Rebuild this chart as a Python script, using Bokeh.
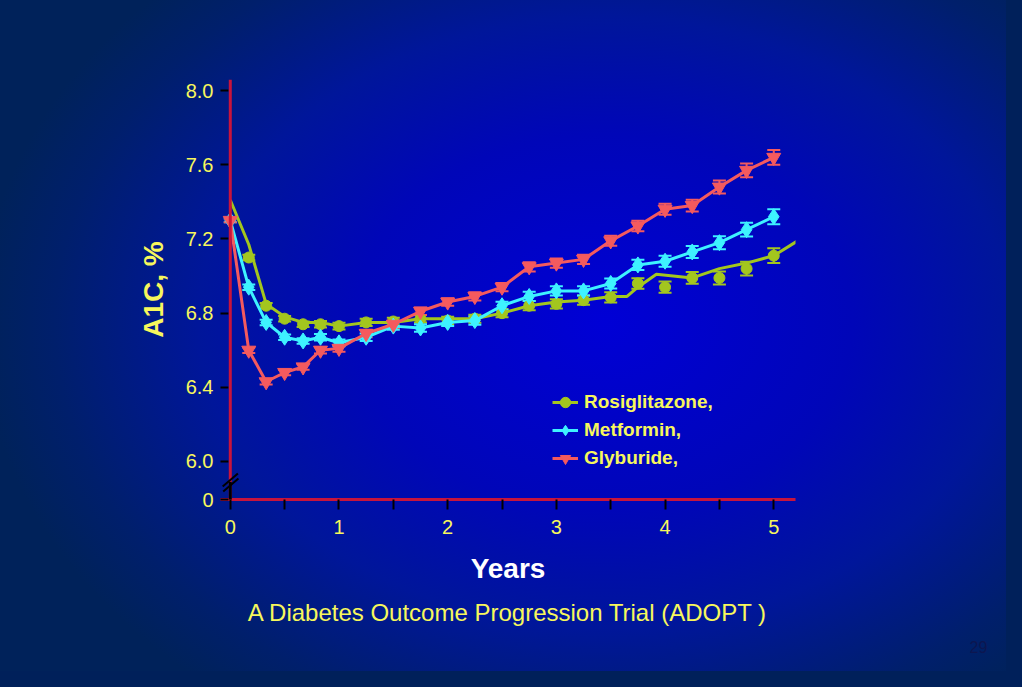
from bokeh.plotting import figure
from bokeh.models import (ColumnDataSource, FixedTicker, Whisker, TeeHead, Legend,
                          LegendItem, Title, CustomJSTickFormatter, Range1d, Span)
from bokeh.embed import file_html
from bokeh.resources import INLINE

# ---- data ----
years = [0, 0.17, 0.33, 0.5, 0.67, 0.83, 1.0, 1.25, 1.5, 1.75, 2.0, 2.25, 2.5,
         2.75, 3.0, 3.25, 3.5, 3.75, 4.0, 4.25, 4.5, 4.75, 5.0]
glyburide = [7.30, 6.60, 6.43, 6.48, 6.51, 6.60, 6.61, 6.69, 6.74, 6.81, 6.86, 6.89,
             6.94, 7.05, 7.07, 7.09, 7.19, 7.27, 7.36, 7.38, 7.48, 7.57, 7.64]
metformin = [7.30, 6.94, 6.75, 6.67, 6.65, 6.67, 6.64, 6.67, 6.73, 6.72, 6.75, 6.76,
             6.84, 6.89, 6.92, 6.92, 6.96, 7.06, 7.08, 7.13, 7.18, 7.25, 7.32]
rosi_years = years[1:]
rosiglitazone = [7.10, 6.84, 6.77, 6.74, 6.74, 6.73, 6.75, 6.755, 6.77, 6.76, 6.77,
                 6.80, 6.84, 6.85, 6.87, 6.885, 6.96, 6.94, 6.99, 6.99, 7.04, 7.11]
rosi_line_years = [0, 0.17, 0.33, 0.5, 0.67, 0.83, 1.0, 1.25, 1.5, 1.75, 2.0, 2.25,
                   2.5, 2.75, 3.0, 3.25, 3.5, 3.65, 3.75, 3.92, 4.25, 4.5, 4.75, 5.0, 5.22]
rosi_line = [7.41, 7.17, 6.85, 6.78, 6.75, 6.75, 6.73, 6.75, 6.75, 6.77, 6.77, 6.77,
             6.80, 6.84, 6.86, 6.87, 6.89, 6.89, 6.94, 7.01, 6.99, 7.04, 7.07, 7.11, 7.19]
sem = [0.010, 0.015, 0.015, 0.015, 0.015, 0.018, 0.018, 0.020, 0.020, 0.020, 0.020,
       0.022, 0.022, 0.025, 0.025, 0.025, 0.027, 0.028, 0.030, 0.032, 0.035, 0.037, 0.040]

y_ticks = [5.795, 6.0, 6.4, 6.8, 7.2, 7.6, 8.0]
x_ticks = [0, 1, 2, 3, 4, 5]
x_minor = [0.5, 1.5, 2.5, 3.5, 4.5]
series_names = ["Rosiglitazone,", "Metformin,", "Glyburide,"]

RED = "#f45a5e"
CYAN = "#3ef2ff"
GREEN = "#a3c61e"
YELLOW = "#f7f75c"
AXIS_RED = "#c8143c"
FONT = "Liberation Sans"

p = figure(width=1006, height=671, x_range=Range1d(-0.09, 5.2), y_range=Range1d(5.795, 8.06),
           output_backend="svg", toolbar_location=None,
           min_border_left=220, min_border_right=211, min_border_top=79, min_border_bottom=172,
           border_fill_color=None, background_fill_color=None, outline_line_color=None,
           styles={"background-image": "radial-gradient(ellipse 62% 70% at 60% 48%, #0000d6 0%, #0006b8 40%, #00169a 65%, #001f6c 88%, #00225a 100%)",
                   "box-shadow": "0 0 0 16px #00205a"})
p.grid.visible = False

# x axis
xa = p.xaxis[0]
xa.ticker = FixedTicker(ticks=x_ticks, minor_ticks=x_minor)
xa.axis_line_color = AXIS_RED
xa.axis_line_width = 3
xa.major_tick_out = 10
xa.major_tick_in = 0
xa.minor_tick_out = 10
xa.minor_tick_in = 0
xa.major_tick_line_color = "black"
xa.minor_tick_line_color = "black"
xa.major_tick_line_width = 2
xa.minor_tick_line_width = 2
xa.major_label_text_color = YELLOW
xa.major_label_text_font = FONT
xa.major_label_text_font_size = "20px"
xa.major_label_standoff = 10
xa.axis_label = "Years"
xa.axis_label_text_color = "white"
xa.axis_label_text_font = FONT
xa.axis_label_text_font_style = "bold"
xa.axis_label_text_font_size = "28px"
xa.axis_label_standoff = 16

# y axis (labels at the frame edge, ticks drawn inward up to the line at x = 0)
ya = p.yaxis[0]
ya.ticker = FixedTicker(ticks=y_ticks)
ya.formatter = CustomJSTickFormatter(code="return tick < 5.9 ? '0' : tick.toFixed(1);")
ya.axis_line_color = None
ya.major_tick_out = 0
ya.major_tick_in = 8
ya.minor_tick_out = 0
ya.minor_tick_in = 0
ya.major_tick_line_color = "black"
ya.major_tick_line_width = 2
ya.major_label_text_color = YELLOW
ya.major_label_text_font = FONT
ya.major_label_text_font_size = "20px"
ya.major_label_standoff = 7
ya.axis_label = "A1C, %"
ya.axis_label_text_color = YELLOW
ya.axis_label_text_font = FONT
ya.axis_label_text_font_style = "bold"
ya.axis_label_text_font_size = "28px"
ya.axis_label_standoff = 14

p.add_layout(Span(location=0, dimension="height", line_color=AXIS_RED, line_width=3))

# axis break marks
p.segment(x0=[0], y0=[5.795], x1=[0], y1=[5.89], line_color="black",
          line_width=3, level="overlay")
p.segment(x0=[-0.07, -0.065], y0=[5.865, 5.838], x1=[0.07, 0.075], y1=[5.935, 5.908],
          line_color="black", line_width=2, level="overlay")

def add_whiskers(xs, ys, errs, color):
    src = ColumnDataSource(dict(x=xs, lower=[y - e for y, e in zip(ys, errs)],
                                upper=[y + e for y, e in zip(ys, errs)]))
    w = Whisker(base="x", lower="lower", upper="upper", source=src,
                line_color=color, line_width=2,
                upper_head=TeeHead(size=13, line_color=color, line_width=2),
                lower_head=TeeHead(size=13, line_color=color, line_width=2))
    p.add_layout(w)

# Rosiglitazone
g_line = p.line(rosi_line_years, rosi_line, line_color=GREEN, line_width=3)
add_whiskers(rosi_years, rosiglitazone, sem[1:], GREEN)
g_mark = p.scatter(rosi_years, rosiglitazone, marker="circle", size=11,
                   fill_color=GREEN, line_color=GREEN)

# Metformin
m_line = p.line(years, metformin, line_color=CYAN, line_width=3)
add_whiskers(years, metformin, sem, CYAN)
m_mark = p.scatter(years, metformin, marker="diamond", size=16,
                   fill_color=CYAN, line_color=CYAN)

# Glyburide
r_line = p.line(years, glyburide, line_color=RED, line_width=3)
add_whiskers(years, glyburide, sem, RED)
r_mark = p.scatter(years, glyburide, marker="inverted_triangle", size=14,
                   fill_color=RED, line_color=RED)

legend = Legend(items=[LegendItem(label=series_names[0], renderers=[g_line, g_mark]),
                       LegendItem(label=series_names[1], renderers=[m_line, m_mark]),
                       LegendItem(label=series_names[2], renderers=[r_line, r_mark])],
                location=(332, 27), padding=0, margin=0, spacing=0,
                label_height=28, glyph_height=28, glyph_width=26, label_standoff=6,
                label_text_color=YELLOW, label_text_font=FONT,
                label_text_font_style="bold", label_text_font_size="19px",
                background_fill_alpha=0, border_line_alpha=0)
p.add_layout(legend)

p.add_layout(Title(text="A Diabetes Outcome Progression Trial (ADOPT )", align="center",
                   text_color=YELLOW, text_font=FONT, text_font_size="24px",
                   text_font_style="normal", standoff=20), "below")
p.add_layout(Title(text="29", align="left", offset=749,
                   text_color="#0c1650", text_font=FONT, text_font_size="16px",
                   text_font_style="normal", standoff=6), "below")

open("out.html", "w").write(file_html(p, INLINE))
